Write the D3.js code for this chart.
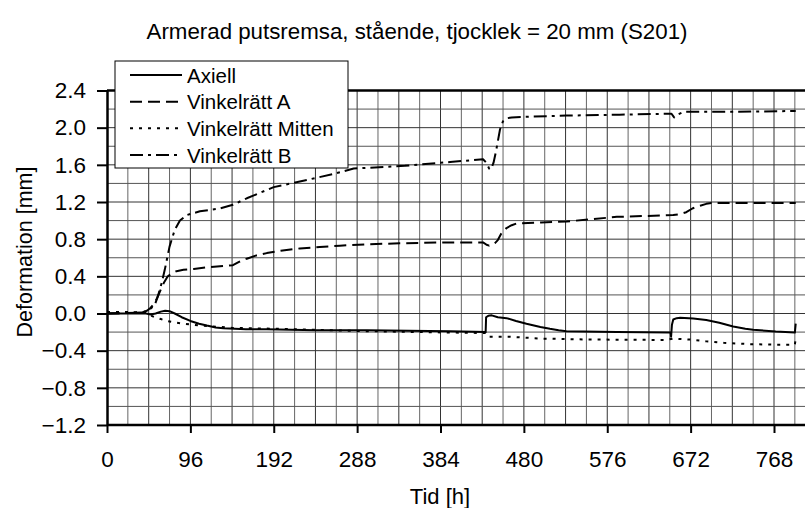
<!DOCTYPE html>
<html>
<head>
<meta charset="utf-8">
<script src="https://cdn.jsdelivr.net/npm/d3@7"></script>
<style>
  html, body { margin: 0; padding: 0; background: #fff; }
  svg { display: block; font-family: "Liberation Sans", Arial, sans-serif; }
</style>
</head>
<body>
<svg id="chart" width="805" height="508"></svg>
<script>
// ---- data (time in hours, deformation in mm) ----
const titleText = "Armerad putsremsa, stående, tjocklek = 20 mm (S201)";
const xLabel = "Tid [h]";
const yLabel = "Deformation [mm]";
const xTicks = [0, 96, 192, 288, 384, 480, 576, 672, 768];
const yTicks = [-1.2, -0.8, -0.4, 0.0, 0.4, 0.8, 1.2, 1.6, 2.0, 2.4];
const seriesNames = ["Axiell", "Vinkelrätt A", "Vinkelrätt Mitten", "Vinkelrätt B"];

const axiellH = [0, 20, 45, 50, 56, 62, 67, 72, 78, 86, 96, 106, 115, 125, 134, 160, 184, 240, 299, 395, 436, 436.5, 439, 443, 450, 460, 471, 483, 499, 510, 520, 529, 587, 649, 649.5, 650.5, 652, 656, 660, 675, 690, 705, 721, 735, 744, 752, 770, 792, 793];
const axiellV = [0, 0, 0, -0.01, 0.0, 0.02, 0.03, 0.025, 0.0, -0.04, -0.08, -0.11, -0.13, -0.15, -0.16, -0.17, -0.17, -0.18, -0.18, -0.19, -0.20, -0.04, -0.025, -0.02, -0.04, -0.05, -0.08, -0.11, -0.145, -0.165, -0.18, -0.19, -0.20, -0.205, -0.25, -0.12, -0.065, -0.05, -0.045, -0.055, -0.07, -0.10, -0.14, -0.165, -0.175, -0.18, -0.195, -0.205, -0.11];

const mittenH = [0, 30, 45, 50, 55, 62, 68.7, 78, 88, 107, 145, 222, 299, 395, 436, 437, 439, 464, 499, 556, 644, 652, 671, 690, 710, 740, 767, 792, 793];
const mittenV = [0.015, 0.015, 0.01, -0.02, -0.04, -0.06, -0.08, -0.095, -0.11, -0.13, -0.155, -0.17, -0.19, -0.205, -0.21, -0.235, -0.25, -0.25, -0.27, -0.28, -0.285, -0.27, -0.28, -0.30, -0.315, -0.33, -0.335, -0.335, -0.27];

const aH = [0, 40, 46, 50, 54, 58, 62, 66, 70, 74.5, 80, 88, 100, 118, 145, 152, 161, 172, 184, 200, 222, 245, 268, 300, 337, 391, 433, 437, 440, 444, 447, 450, 454, 460, 466, 472, 500, 529, 587, 640, 652, 660, 667, 674, 683, 690, 696, 793];
const aV = [0, 0.01, 0.03, 0.06, 0.10, 0.17, 0.26, 0.34, 0.40, 0.43, 0.455, 0.47, 0.48, 0.50, 0.52, 0.555, 0.59, 0.625, 0.65, 0.675, 0.70, 0.715, 0.73, 0.745, 0.755, 0.765, 0.765, 0.74, 0.73, 0.74, 0.76, 0.79, 0.86, 0.92, 0.95, 0.97, 0.98, 0.99, 1.04, 1.055, 1.06, 1.07, 1.09, 1.13, 1.16, 1.18, 1.19, 1.19];

const bH = [0, 40, 46, 50, 55, 59, 63, 66.5, 72, 78, 84, 92, 107, 130, 145, 161, 192, 222, 260, 284, 343, 395, 433, 437, 440, 442, 445, 448, 452.5, 456, 460, 466, 490, 529, 590, 644, 650, 653, 657, 664, 720, 793];
const bV = [0, 0.01, 0.03, 0.05, 0.09, 0.2, 0.33, 0.47, 0.72, 0.9, 1.0, 1.06, 1.10, 1.13, 1.17, 1.24, 1.36, 1.42, 1.50, 1.56, 1.59, 1.63, 1.66, 1.62, 1.56, 1.55, 1.62, 1.75, 1.98, 2.07, 2.10, 2.11, 2.12, 2.13, 2.14, 2.15, 2.15, 2.11, 2.14, 2.17, 2.17, 2.18];

// ---- layout ----
const svg = d3.select("#chart");
const W = 805, H = 508;
const plotLeft = 107, plotTop = 90.5, plotBottom = 425;
const x = d3.scaleLinear().domain([0, 816]).range([plotLeft, plotLeft + 816 * (667 / 768)]);
const y = d3.scaleLinear().domain([-1.2, 2.4]).range([plotBottom, plotTop]);

const FONT_FAMILY = "Liberation Sans, Arial, sans-serif";
const TICK_FONT = 22.5;
const LEGEND_FONT = 20.5;
const TITLE_FONT = 22.3;
const LABEL_FONT = 22;

// clip plot
svg.append("defs").append("clipPath").attr("id", "plotclip")
  .append("rect").attr("x", plotLeft).attr("y", plotTop - 2)
  .attr("width", W - plotLeft).attr("height", plotBottom - plotTop + 4);

// grid
const grid = svg.append("g");
const gx = d3.range(24, 817, 24);
const gy = d3.range(-1.0, 2.41, 0.2).map(v => Math.round(v * 10) / 10);
grid.selectAll("line.vx").data(gx).join("line")
  .attr("x1", d => x(d)).attr("x2", d => x(d))
  .attr("y1", plotTop).attr("y2", plotBottom)
  .attr("stroke", (d, i) => (i % 2 ? "#333" : "#666")).attr("stroke-width", 1);
grid.selectAll("line.hy").data(gy).join("line")
  .attr("x1", plotLeft).attr("x2", W)
  .attr("y1", d => y(d)).attr("y2", d => y(d))
  .attr("stroke", (d, i) => (i % 2 ? "#333" : "#555")).attr("stroke-width", 1);

// top border
svg.append("line").attr("x1", plotLeft).attr("x2", W).attr("y1", plotTop).attr("y2", plotTop)
  .attr("stroke", "#000").attr("stroke-width", 2.5);

// axes
const xAxis = d3.axisBottom(x).tickValues(xTicks).tickSize(8).tickSizeOuter(0).tickPadding(18)
  .tickFormat(d3.format("d"));
const gX = svg.append("g").attr("transform", `translate(0,${plotBottom})`).call(xAxis);
gX.select(".domain").attr("stroke-width", 2.5).attr("d", `M${plotLeft},0H${W}`);
gX.selectAll(".tick line").attr("stroke-width", 2);
gX.selectAll("text").attr("font-size", TICK_FONT).attr("font-family", FONT_FAMILY).attr("fill", "#000");

const yAxis = d3.axisLeft(y).tickValues(yTicks).tickSize(10).tickSizeOuter(0).tickPadding(11)
  .tickFormat(d3.format(".1f"));
const gY = svg.append("g").attr("transform", `translate(${plotLeft},0)`).call(yAxis);
gY.select(".domain").attr("stroke-width", 2.5);
gY.selectAll(".tick line").attr("stroke-width", 2);
gY.selectAll("text").attr("font-size", TICK_FONT).attr("font-family", FONT_FAMILY).attr("fill", "#000");

// series
const styles = [
  { dash: null },
  { dash: "12,6" },
  { dash: "3,6" },
  { dash: "13,5,3,5" }
];
const seriesData = [
  axiellH.map((h, i) => [h, axiellV[i]]),
  aH.map((h, i) => [h, aV[i]]),
  mittenH.map((h, i) => [h, mittenV[i]]),
  bH.map((h, i) => [h, bV[i]])
];
const line = d3.line().x(d => x(d[0])).y(d => y(d[1])).curve(d3.curveLinear);
const lines = svg.append("g").attr("clip-path", "url(#plotclip)");
seriesData.forEach((s, i) => {
  lines.append("path").attr("d", line(s)).attr("fill", "none")
    .attr("stroke", "#000").attr("stroke-width", 2)
    .attr("stroke-linejoin", "round")
    .attr("stroke-dasharray", styles[i].dash);
});

// legend
const lg = svg.append("g");
lg.append("rect").attr("x", 115).attr("y", 61).attr("width", 233).attr("height", 107)
  .attr("fill", "#fff").attr("stroke", "#000").attr("stroke-width", 1);
const rowY = [75, 101.7, 128.3, 155];
seriesNames.forEach((n, i) => {
  lg.append("line").attr("x1", 130).attr("x2", 182).attr("y1", rowY[i]).attr("y2", rowY[i])
    .attr("stroke", "#000").attr("stroke-width", 2).attr("stroke-dasharray", styles[i].dash);
  lg.append("text").attr("x", 187).attr("y", rowY[i] + 7.5).attr("font-size", LEGEND_FONT).text(n);
});

// titles
svg.append("text").attr("x", 417).attr("y", 39).attr("text-anchor", "middle")
  .attr("font-size", TITLE_FONT).text(titleText);
svg.append("text").attr("x", 440).attr("y", 504).attr("text-anchor", "middle")
  .attr("font-size", LABEL_FONT).text(xLabel);
svg.append("text").attr("transform", "translate(32,252) rotate(-90)").attr("text-anchor", "middle")
  .attr("font-size", 21.5).text(yLabel);
</script>
</body>
</html>
